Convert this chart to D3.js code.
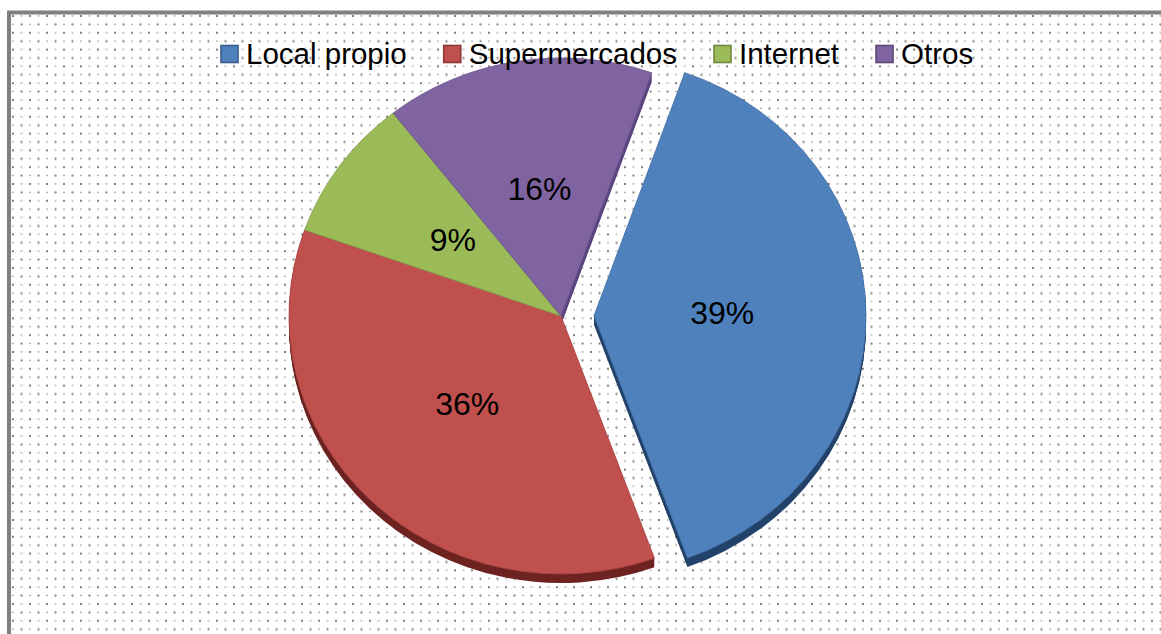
<!DOCTYPE html>
<html>
<head>
<meta charset="utf-8">
<script src="https://cdn.jsdelivr.net/npm/d3@7"></script>
<style>
  html, body { margin: 0; padding: 0; background: #ffffff; }
  svg { display: block; }
</style>
</head>
<body>
<svg id="chart" width="1161" height="634"></svg>
<script>
// Canales de venta — participación porcentual
const categories = ["Local propio", "Supermercados", "Internet", "Otros"];
const values = [39, 36, 9, 16];
const topColors = ["#4f81bd", "#c0504d", "#9bbb59", "#8064a2"];
const sideColors = ["#24436b", "#6e2422", "#6d873a", "#5b4680"];
const legendStroke = ["#385d8a", "#8c3836", "#71893f", "#5c4776"];
const explode = [33, 0, 0, 0];

const W = 1161, H = 634;
const svg = d3.select("#chart");
const defs = svg.append("defs");

// dotted chart-area fill
const pat = defs.append("pattern")
  .attr("id", "dots")
  .attr("patternUnits", "userSpaceOnUse")
  .attr("width", 17).attr("height", 16.8)
  .attr("x", 10).attr("y", 13);
pat.append("rect").attr("width", 17).attr("height", 16.8).attr("fill", "#ffffff");
pat.append("rect").attr("x", 2).attr("y", 2).attr("width", 2).attr("height", 2).attr("fill", "#808080");
pat.append("rect").attr("x", 10.5).attr("y", 10.4).attr("width", 2).attr("height", 2).attr("fill", "#808080");
pat.append("rect").attr("x", 10.5).attr("y", 2.3).attr("width", 2).attr("height", 1.2).attr("fill", "#a8a8a8");
pat.append("rect").attr("x", 2).attr("y", 10.7).attr("width", 2).attr("height", 1.2).attr("fill", "#a8a8a8");

svg.append("rect").attr("x", 0).attr("y", 0).attr("width", W).attr("height", H).attr("fill", "#ffffff");
svg.append("rect").attr("x", 9).attr("y", 12.5).attr("width", W + 20).attr("height", H + 20)
  .attr("fill", "url(#dots)")
  .attr("stroke", "#808080").attr("stroke-width", 4);

// pie geometry (elliptical, tilted view)
const cx = 561, cy = 316, rx = 272, ry = 258, depth = 9;
const R = ry;
const sx = rx / ry;
const startDeg = 19.5;

const pie = d3.pie().sort(null).value(d => d)
  .startAngle(startDeg * Math.PI / 180)
  .endAngle(startDeg * Math.PI / 180 + 2 * Math.PI);
const arcs = pie(values);
const arc = d3.arc().innerRadius(0).outerRadius(R);
const labelArc = d3.arc().innerRadius(R * 0.49).outerRadius(R * 0.49);

function offset(d, i) {
  const mid = (d.startAngle + d.endAngle) / 2;
  return [Math.sin(mid) * explode[i], -Math.cos(mid) * explode[i]];
}

const pieG = svg.append("g");

// sides (extrusion) first
arcs.forEach((d, i) => {
  const [ox, oy] = offset(d, i);
  for (let k = depth; k >= 1; k--) {
    pieG.append("path")
      .attr("d", arc(d))
      .attr("transform", `translate(${cx + ox},${cy + oy + k}) scale(${sx},1)`)
      .attr("fill", sideColors[i]);
  }
});

// top faces
arcs.forEach((d, i) => {
  const [ox, oy] = offset(d, i);
  pieG.append("path")
    .attr("d", arc(d))
    .attr("transform", `translate(${cx + ox},${cy + oy}) scale(${sx},1)`)
    .attr("fill", topColors[i])
    .attr("stroke", d3.color(topColors[i]).darker(0.4))
    .attr("stroke-width", 0.8);
});

// value labels
arcs.forEach((d, i) => {
  const [ox, oy] = offset(d, i);
  const [lx, ly] = labelArc.centroid(d);
  svg.append("text")
    .attr("x", cx + ox + lx * sx - (i === 0 ? 5 : 0))
    .attr("y", cy + oy + ly - 2)
    .attr("text-anchor", "middle")
    .attr("dominant-baseline", "central")
    .attr("font-family", "Liberation Sans, Arial, sans-serif")
    .attr("font-size", 32)
    .attr("fill", "#000")
    .text(values[i] + "%");
});

// legend
const legend = svg.append("g");
let lxPos = 221;
categories.forEach((c, i) => {
  legend.append("rect")
    .attr("x", lxPos).attr("y", 45.5)
    .attr("width", 17).attr("height", 17)
    .attr("fill", topColors[i])
    .attr("stroke", legendStroke[i]).attr("stroke-width", 1.6);
  const t = legend.append("text")
    .attr("x", lxPos + 25).attr("y", 63.5)
    .attr("font-family", "Liberation Sans, Arial, sans-serif")
    .attr("font-size", 29.5)
    .attr("fill", "#000")
    .text(c);
  lxPos += 25 + t.node().getComputedTextLength() + 37;
});
</script>
</body>
</html>
